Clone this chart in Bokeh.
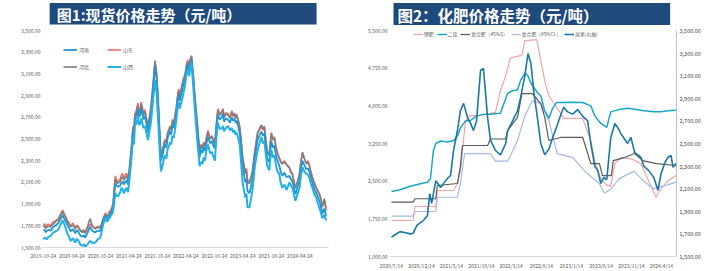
import pandas as pd
from bokeh.plotting import figure
from bokeh.layouts import row, column
from bokeh.models import (Range1d, LinearAxis, FixedTicker, NumeralTickFormatter,
                          Legend, LegendItem)
from bokeh.embed import file_html
from bokeh.resources import INLINE
from bokeh.core.properties import value

FONT = "Noto Sans CJK SC"
TXT = "#595959"

# ---------------- 图1 现货价格走势 (元/吨) ----------------
title1 = "图1:现货价格走势（元/吨）"
dates1 = [
    "2019-10-24", "2019-10-31", "2019-11-08", "2019-11-16", "2019-11-25", "2019-12-10", "2019-12-18", "2019-12-27", "2020-01-12", "2020-01-27",
    "2020-02-10", "2020-02-24", "2020-03-04", "2020-03-12", "2020-03-20", "2020-03-28", "2020-04-06", "2020-04-14", "2020-05-01", "2020-05-08",
    "2020-05-15", "2020-05-24", "2020-06-01", "2020-06-09", "2020-06-17", "2020-07-03", "2020-07-10", "2020-07-18", "2020-08-03", "2020-08-11",
    "2020-08-19", "2020-08-27", "2020-09-04", "2020-09-20", "2020-10-06", "2020-10-22", "2020-10-30", "2020-11-08", "2020-11-24", "2020-12-02",
    "2020-12-10", "2020-12-18", "2020-12-25", "2021-01-12", "2021-01-20", "2021-01-27", "2021-02-04", "2021-02-12", "2021-02-27", "2021-03-07",
    "2021-03-15", "2021-03-22", "2021-03-30", "2021-04-09", "2021-04-18", "2021-04-28", "2021-05-08", "2021-05-20", "2021-05-26", "2021-06-01",
    "2021-06-10", "2021-06-20", "2021-06-27", "2021-07-05", "2021-07-11", "2021-07-17", "2021-07-26", "2021-08-05", "2021-08-15", "2021-08-24",
    "2021-09-02", "2021-09-12", "2021-09-25", "2021-10-08", "2021-10-18", "2021-10-27", "2021-11-06", "2021-11-15", "2021-11-28", "2021-12-05",
    "2021-12-12", "2021-12-20", "2021-12-28", "2022-01-05", "2022-01-12", "2022-01-20", "2022-01-28", "2022-02-05", "2022-02-13", "2022-02-22",
    "2022-03-04", "2022-03-10", "2022-03-16", "2022-03-28", "2022-04-06", "2022-04-14", "2022-04-22", "2022-04-29", "2022-05-07", "2022-05-15",
    "2022-05-22", "2022-05-30", "2022-06-10", "2022-06-19", "2022-06-28", "2022-07-08", "2022-07-21", "2022-07-30", "2022-08-08", "2022-08-16",
    "2022-08-24", "2022-09-03", "2022-09-12", "2022-09-18", "2022-09-25", "2022-10-07", "2022-10-17", "2022-10-27", "2022-11-05", "2022-11-15",
    "2022-11-28", "2022-12-10", "2022-12-18", "2022-12-25", "2023-01-05", "2023-01-18", "2023-02-01", "2023-02-12", "2023-02-20", "2023-03-01",
    "2023-03-08", "2023-03-15", "2023-03-25", "2023-04-04", "2023-04-13", "2023-04-23", "2023-05-10", "2023-05-17", "2023-05-24", "2023-06-06",
    "2023-06-15", "2023-06-24", "2023-07-10", "2023-07-18", "2023-07-27", "2023-08-10", "2023-08-21", "2023-08-30", "2023-09-09", "2023-09-18",
    "2023-09-28", "2023-10-10", "2023-10-17", "2023-10-24", "2023-11-02", "2023-11-12", "2023-11-21", "2023-12-01", "2023-12-13", "2023-12-22",
    "2024-01-02", "2024-01-15", "2024-01-29", "2024-02-17", "2024-02-26", "2024-03-07", "2024-03-16", "2024-03-26", "2024-04-08", "2024-04-21",
    "2024-04-30", "2024-05-10", "2024-05-22", "2024-06-04", "2024-06-14", "2024-06-24", "2024-07-03", "2024-07-13", "2024-07-25", "2024-08-07",
    "2024-08-16", "2024-08-26", "2024-09-05", "2024-09-15", "2024-09-27", "2024-10-09"]
shandong = [
    1705, 1720, 1690, 1705, 1715, 1700, 1725, 1735, 1750, 1765,
    1805, 1845, 1815, 1790, 1770, 1745, 1725, 1700, 1725, 1700,
    1680, 1705, 1700, 1680, 1660, 1650, 1665, 1640, 1680, 1700,
    1715, 1700, 1690, 1680, 1695, 1690, 1720, 1760, 1820, 1795,
    1800, 1830, 1835, 1900, 2050, 2160, 2120, 2110, 2130, 2170,
    2180, 2140, 2165, 2185, 2130, 2250, 2400, 2620, 2580, 2735,
    2760, 2830, 2760, 2780, 2840, 2805, 2740, 2770, 2690, 2620,
    2700, 2800, 3000, 3225, 3120, 2900, 2600, 2350, 2420, 2470,
    2500, 2470, 2560, 2590, 2620, 2590, 2680, 2650, 2720, 2800,
    2930, 2960, 2900, 2990, 3050, 3080, 3130, 3200, 3230, 3160,
    3240, 3270, 3100, 2930, 2780, 2620, 2380, 2450, 2420, 2470,
    2440, 2520, 2580, 2550, 2510, 2530, 2500, 2470, 2640, 2780,
    2730, 2750, 2780, 2710, 2740, 2735, 2700, 2760, 2720, 2740,
    2700, 2730, 2680, 2620, 2500, 2330, 2200, 2230, 2120, 2110,
    2150, 2200, 2400, 2470, 2560, 2590, 2625, 2580, 2620, 2500,
    2380, 2360, 2470, 2560, 2500, 2520, 2440, 2380, 2330, 2300,
    2270, 2300, 2270, 2240, 2200, 2180, 2120, 2050, 2110, 2180,
    2290, 2370, 2320, 2280, 2300, 2260, 2200, 2150, 2100, 2050,
    2030, 2000, 1950, 1870, 1940, 1840]
hebei = [
    1685, 1700, 1675, 1690, 1695, 1690, 1705, 1715, 1740, 1755,
    1795, 1830, 1805, 1785, 1755, 1730, 1715, 1690, 1705, 1690,
    1670, 1695, 1690, 1670, 1650, 1640, 1655, 1630, 1700, 1740,
    1765, 1720, 1695, 1670, 1685, 1680, 1710, 1750, 1805, 1785,
    1790, 1815, 1820, 1880, 2030, 2130, 2100, 2090, 2110, 2140,
    2150, 2120, 2140, 2160, 2110, 2230, 2380, 2600, 2560, 2715,
    2740, 2810, 2740, 2760, 2820, 2790, 2720, 2750, 2670, 2600,
    2680, 2780, 2980, 3210, 3100, 2880, 2580, 2330, 2400, 2450,
    2480, 2460, 2550, 2570, 2610, 2580, 2670, 2640, 2700, 2780,
    2910, 2940, 2880, 2970, 3030, 3060, 3110, 3185, 3210, 3150,
    3230, 3260, 3090, 2910, 2760, 2600, 2370, 2440, 2410, 2460,
    2430, 2500, 2560, 2540, 2500, 2520, 2480, 2450, 2620, 2760,
    2720, 2740, 2770, 2700, 2730, 2720, 2690, 2750, 2710, 2730,
    2690, 2720, 2670, 2600, 2480, 2310, 2180, 2210, 2100, 2090,
    2140, 2190, 2380, 2460, 2550, 2600, 2630, 2590, 2610, 2490,
    2370, 2350, 2460, 2550, 2490, 2510, 2430, 2370, 2320, 2290,
    2270, 2290, 2260, 2230, 2190, 2170, 2110, 2045, 2100, 2170,
    2290, 2380, 2320, 2270, 2290, 2250, 2190, 2140, 2090, 2045,
    2020, 1990, 1950, 1880, 1950, 1860]
henan = [
    1655, 1665, 1640, 1655, 1665, 1655, 1675, 1690, 1705, 1725,
    1760, 1800, 1770, 1745, 1725, 1700, 1680, 1650, 1670, 1650,
    1630, 1660, 1650, 1630, 1610, 1600, 1615, 1590, 1640, 1670,
    1690, 1665, 1650, 1640, 1655, 1650, 1690, 1730, 1790, 1760,
    1770, 1795, 1800, 1860, 1990, 2090, 2070, 2060, 2070, 2100,
    2110, 2080, 2100, 2120, 2080, 2190, 2340, 2560, 2520, 2680,
    2700, 2770, 2700, 2720, 2780, 2750, 2680, 2710, 2630, 2560,
    2640, 2740, 2940, 3170, 3060, 2840, 2540, 2300, 2370, 2420,
    2450, 2420, 2510, 2540, 2570, 2540, 2630, 2600, 2660, 2740,
    2870, 2900, 2850, 2930, 2990, 3020, 3080, 3150, 3180, 3120,
    3200, 3230, 3050, 2870, 2720, 2560, 2330, 2400, 2370, 2420,
    2390, 2460, 2520, 2500, 2460, 2480, 2440, 2410, 2580, 2720,
    2680, 2700, 2730, 2660, 2690, 2680, 2650, 2700, 2670, 2690,
    2650, 2670, 2620, 2550, 2420, 2250, 2100, 2130, 2020, 2000,
    2060, 2120, 2330, 2400, 2490, 2540, 2570, 2530, 2550, 2430,
    2310, 2290, 2400, 2480, 2420, 2440, 2360, 2300, 2260, 2200,
    2160, 2190, 2150, 2160, 2130, 2110, 2050, 1990, 2050, 2110,
    2220, 2300, 2260, 2220, 2230, 2200, 2140, 2100, 2040, 2000,
    1970, 1930, 1880, 1810, 1860, 1790]
shanxi = [
    1575, 1590, 1585, 1575, 1600, 1605, 1625, 1640, 1650, 1665,
    1710, 1750, 1720, 1690, 1655, 1620, 1600, 1560, 1585, 1565,
    1545, 1580, 1570, 1550, 1525, 1515, 1530, 1510, 1530, 1550,
    1560, 1550, 1540, 1545, 1575, 1590, 1640, 1700, 1775, 1740,
    1745, 1770, 1780, 1830, 1920, 2000, 1980, 1970, 2010, 2050,
    2040, 2000, 2025, 2050, 2010, 2130, 2290, 2490, 2450, 2620,
    2640, 2700, 2630, 2640, 2690, 2660, 2600, 2620, 2550, 2490,
    2570, 2650, 2850, 3040, 2930, 2700, 2420, 2200, 2270, 2330,
    2350, 2320, 2410, 2430, 2470, 2450, 2530, 2510, 2580, 2680,
    2810, 2840, 2780, 2850, 2910, 2960, 3030, 3110, 3140, 3080,
    3160, 3200, 2990, 2800, 2630, 2450, 2250, 2290, 2270, 2330,
    2300, 2400, 2450, 2420, 2370, 2380, 2340, 2300, 2500, 2650,
    2590, 2600, 2620, 2570, 2600, 2620, 2580, 2600, 2560, 2580,
    2540, 2560, 2510, 2450, 2280, 2090, 1960, 2000, 1870, 1870,
    1950, 2020, 2250, 2320, 2390, 2470, 2520, 2460, 2480, 2360,
    2250, 2210, 2320, 2400, 2330, 2350, 2270, 2200, 2180, 2100,
    2050, 2080, 2030, 2100, 2070, 2050, 1990, 1930, 1990, 2050,
    2160, 2240, 2200, 2180, 2170, 2140, 2090, 2050, 1990, 1960,
    1910, 1870, 1820, 1770, 1800, 1750]
xticks1 = ["2019-10-24", "2020-04-24", "2020-10-24", "2021-04-24", "2021-10-24",
           "2022-04-24", "2022-10-24", "2023-04-24", "2023-10-24", "2024-04-24"]
yticks1 = [1500, 1700, 1900, 2100, 2300, 2500, 2700, 2900, 3100, 3300, 3500]

# ---------------- 图2 化肥价格走势 (元/吨) ----------------
title2 = "图2：化肥价格走势（元/吨）"
kcl_dates = ["2020-07-14", "2020-11-01", "2020-11-10", "2021-02-24", "2021-03-04", "2021-05-25",
             "2021-06-14", "2021-06-29", "2021-07-09", "2021-07-25", "2021-08-19", "2021-10-09",
             "2021-11-29", "2021-12-24", "2022-01-18", "2022-02-14", "2022-03-09", "2022-04-15",
             "2022-05-07", "2022-05-22", "2022-07-22", "2022-08-11", "2022-08-31", "2022-09-21",
             "2022-11-20", "2022-12-05", "2023-03-12", "2023-04-22", "2023-05-12", "2023-06-12",
             "2023-07-12", "2023-08-01", "2023-08-22", "2023-09-21", "2023-11-11", "2024-01-01",
             "2024-02-10", "2024-03-18", "2024-04-12", "2024-05-17", "2024-06-27"]
kcl = [1717, 1717, 1996, 1996, 2314, 2314, 2450, 2710, 3110, 3700, 3807, 3807,
       3850, 3870, 4300, 4600, 4950, 4990, 5000, 5300, 5320, 4900, 4500, 4200,
       3850, 3750, 3750, 3300, 2900, 2550, 2420, 2400, 2850, 2970, 2950, 2850,
       2500, 2180, 2350, 2500, 2613]
dap_dates = ["2020-07-14", "2020-08-27", "2020-10-17", "2020-12-08", "2021-01-13", "2021-01-28",
             "2021-02-12", "2021-02-24", "2021-03-20", "2021-04-24", "2021-05-25", "2021-06-14",
             "2021-06-29", "2021-07-25", "2021-08-19", "2021-09-19", "2021-10-24", "2021-11-29",
             "2021-12-24", "2022-01-18", "2022-02-24", "2022-03-21", "2022-04-15", "2022-04-30",
             "2022-05-22", "2022-06-07", "2022-06-22", "2022-07-27", "2022-08-11", "2022-08-31",
             "2022-09-21", "2022-10-10", "2022-10-31", "2022-11-20", "2023-01-20", "2023-03-12",
             "2023-04-22", "2023-05-12", "2023-06-12", "2023-07-12", "2023-08-01", "2023-09-06",
             "2023-10-26", "2023-12-01", "2024-01-16", "2024-03-07", "2024-04-12", "2024-05-17",
             "2024-06-27"]
dap = [2294, 2330, 2400, 2450, 2480, 2553, 3110, 3250, 3300, 3280, 3310, 3400,
       3560, 3700, 3708, 3800, 3830, 3830, 3840, 3850, 4250, 4300, 4320, 4500,
       4650, 4600, 4450, 4250, 4200, 3900, 3750, 3950, 4066, 4066, 4070, 4066,
       4000, 3800, 3650, 3570, 3880, 3920, 3950, 3930, 3900, 3880, 3880, 3900,
       3910]
npk_s_dates = ["2020-07-14", "2020-11-01", "2020-11-10", "2021-02-24", "2021-03-04", "2021-06-14",
               "2021-06-29", "2021-07-09", "2021-11-14", "2021-11-29", "2022-02-14", "2022-02-24",
               "2022-04-15", "2022-05-07", "2022-06-29", "2022-08-11", "2022-08-31", "2022-09-21",
               "2022-11-20", "2023-03-12", "2023-04-22", "2023-06-05", "2023-06-20", "2023-08-04",
               "2023-08-14", "2023-10-10", "2023-12-01", "2024-01-10", "2024-03-20", "2024-06-27"]
npk_s = [2082, 2082, 2150, 2150, 2414, 2453, 2800, 3210, 3210, 3340, 3340, 3510,
         3770, 4245, 4245, 4046, 3770, 3310, 3370, 3370, 2850, 2850, 2610, 2610,
         2910, 2970, 3050, 2910, 2850, 2812]
npk_cl_dates = ["2020-07-14", "2020-11-01", "2020-11-10", "2021-02-24", "2021-03-04", "2021-06-14",
                "2021-06-29", "2021-07-20", "2021-11-29", "2021-12-24", "2022-02-24", "2022-03-09",
                "2022-04-15", "2022-05-22", "2022-06-29", "2022-08-11", "2022-09-21", "2022-11-02",
                "2023-01-21", "2023-03-22", "2023-06-05", "2023-06-30", "2023-08-04", "2023-09-13",
                "2023-11-27", "2024-01-16", "2024-03-06", "2024-04-25", "2024-06-27"]
npk_cl = [1803, 1803, 1896, 1896, 2180, 2180, 2453, 3050, 3050, 2900, 2900, 3000,
          3310, 3800, 4100, 4050, 3700, 3050, 2970, 2700, 2450, 2260, 2350, 2550,
          2700, 2500, 2350, 2400, 2480]
urea_dates = ["2020-07-14", "2020-07-30", "2020-08-27", "2020-09-24", "2020-10-17", "2020-11-01",
              "2020-11-20", "2020-12-08", "2020-12-24", "2021-01-13", "2021-01-24", "2021-02-03",
              "2021-02-24", "2021-03-20", "2021-04-04", "2021-04-24", "2021-05-10", "2021-05-25",
              "2021-06-14", "2021-06-29", "2021-07-15", "2021-08-04", "2021-08-19", "2021-09-03",
              "2021-09-19", "2021-10-09", "2021-10-24", "2021-11-14", "2021-11-29", "2021-12-24",
              "2022-01-18", "2022-02-14", "2022-02-24", "2022-03-21", "2022-04-15", "2022-04-30",
              "2022-05-22", "2022-06-07", "2022-06-22", "2022-07-07", "2022-07-27", "2022-08-11",
              "2022-08-31", "2022-09-21", "2022-10-10", "2022-10-31", "2022-11-20", "2022-12-05",
              "2022-12-25", "2023-01-20", "2023-02-14", "2023-03-12", "2023-04-06", "2023-04-22",
              "2023-05-12", "2023-05-27", "2023-06-12", "2023-06-27", "2023-07-12", "2023-08-01",
              "2023-08-22", "2023-09-06", "2023-09-21", "2023-10-10", "2023-10-26", "2023-11-11",
              "2023-12-01", "2024-01-01", "2024-01-16", "2024-02-10", "2024-03-07", "2024-03-28",
              "2024-04-12", "2024-05-02", "2024-05-17", "2024-06-02", "2024-06-12", "2024-06-27"]
urea = [1671, 1690, 1720, 1710, 1700, 1705, 1775, 1800, 1820, 1863, 2057, 1970,
        2170, 2110, 2145, 2190, 2217, 2438, 2615, 2790, 2855, 2730, 2680, 2615,
        2700, 3146, 3164, 2730, 2527, 2438, 2400, 2500, 2615, 2700, 2790, 2900,
        3100, 3296, 3208, 2950, 2700, 2500, 2400, 2450, 2550, 2650, 2750, 2820,
        2780, 2760, 2800, 2740, 2700, 2500, 2300, 2260, 2146, 2200, 2180, 2550,
        2677, 2640, 2590, 2540, 2500, 2555, 2420, 2380, 2300, 2260, 2200, 2085,
        2230, 2330, 2376, 2394, 2290, 2323]
xticks2 = ["2020-07-14", "2020-12-14", "2021-05-14", "2021-10-14", "2022-03-14",
           "2022-08-14", "2023-01-14", "2023-06-14", "2023-11-14", "2024-04-14"]
xlabels2 = ["2020/7/14", "2020/12/14", "2021/5/14", "2021/10/14", "2022/3/14",
            "2022/8/14", "2023/1/14", "2023/6/14", "2023/11/14", "2024/4/14"]
yticks2 = [1000, 1750, 2500, 3250, 4000, 4750, 5500]
yticks2r = [1500, 1700, 1900, 2100, 2300, 2500, 2700, 2900, 3100, 3300, 3500]


def ms(s):
    return pd.Timestamp(s).value / 1e6


def dt(lst):
    return pd.to_datetime(lst)


def make_title(text, left, right, top, bottom, tx, size):
    t = figure(width=360, height=25, x_range=Range1d(0, 360), y_range=Range1d(25, 0),
               output_backend="svg", toolbar_location=None, min_border=0,
               x_axis_location=None, y_axis_location=None, outline_line_color=None)
    t.grid.visible = False
    t.quad(left=[left], right=[right], top=[top], bottom=[bottom],
           fill_color="#1F4A7C", line_color=None)
    t.text(x=[tx], y=[(top + bottom) / 2 + 0.5], text=[text], text_color="white",
           text_font=value(FONT), text_font_style="bold", text_font_size=size,
           text_baseline="middle")
    return t


def style_axis(ax, size="5px", line=None, standoff=2):
    ax.axis_line_color = line
    ax.major_tick_line_color = None
    ax.minor_tick_line_color = None
    ax.major_tick_out = 0
    ax.major_tick_in = 0
    ax.minor_tick_out = 0
    ax.minor_tick_in = 0
    ax.major_label_text_font = FONT
    ax.major_label_text_font_size = size
    ax.major_label_text_color = TXT
    ax.major_label_standoff = standoff


# ---------- chart 1 ----------
t1 = make_title(title1, 9, 345, 2.5, 24, 18, "15px")
p1 = figure(width=360, height=246, x_axis_type="datetime",
            x_range=Range1d(ms("2019-10-18"), ms("2024-10-24")),
            y_range=Range1d(1500, 3500),
            output_backend="svg", toolbar_location=None,
            min_border_left=42, min_border_right=32, min_border_top=5, min_border_bottom=24,
            outline_line_color=None)
p1.grid.visible = False
xt1 = [ms(s) for s in xticks1]
p1.xaxis.ticker = FixedTicker(ticks=xt1)
p1.xaxis.major_label_overrides = {v: s for v, s in zip(xt1, xticks1)}
p1.yaxis.ticker = FixedTicker(ticks=yticks1)
p1.yaxis.formatter = NumeralTickFormatter(format="0,0.00")
style_axis(p1.xaxis[0], "5px", "#D9D9D9", 6)
style_axis(p1.yaxis[0], "5px", None, 2)

d1 = dt(dates1)
r_sd = p1.line(d1, shandong, line_color="#E8726C", line_width=1.6)
r_hb = p1.line(d1, hebei, line_color="#7F7F7F", line_width=1.6)
r_hn = p1.line(d1, henan, line_color="#1F96D4", line_width=1.8)
r_sx = p1.line(d1, shanxi, line_color="#22B0E6", line_width=2.0)

leg1 = Legend(items=[LegendItem(label="河南", renderers=[r_hn]),
                     LegendItem(label="山东", renderers=[r_sd]),
                     LegendItem(label="河北", renderers=[r_hb]),
                     LegendItem(label="山西", renderers=[r_sx])],
              orientation="horizontal", ncols=2, location=(21, 176),
              label_text_font=FONT, label_text_font_size="5px", label_text_color=TXT,
              glyph_width=14, glyph_height=9, label_height=9, label_standoff=2,
              spacing=8, padding=0, margin=0, background_fill_alpha=0,
              border_line_color=None)
p1.add_layout(leg1)

# ---------- chart 2 ----------
t2 = make_title(title2, 5, 352, 2.5, 25, 10, "15.5px")
p2 = figure(width=360, height=246, x_axis_type="datetime",
            x_range=Range1d(ms("2020-07-04"), ms("2024-06-30")),
            y_range=Range1d(1000, 5500),
            output_backend="svg", toolbar_location=None,
            min_border_left=29, min_border_right=44, min_border_top=5, min_border_bottom=15,
            outline_line_color=None)
p2.grid.visible = False
p2.extra_y_ranges = {"urea": Range1d(1500, 3500)}
xt2 = [ms(s) for s in xticks2]
p2.xaxis.ticker = FixedTicker(ticks=xt2)
p2.xaxis.major_label_overrides = {v: s for v, s in zip(xt2, xlabels2)}
p2.yaxis.ticker = FixedTicker(ticks=yticks2)
p2.yaxis.formatter = NumeralTickFormatter(format="0,0.00")
style_axis(p2.xaxis[0], "5px", "#D9D9D9", 5)
style_axis(p2.yaxis[0], "5px", None, 2)
ax_r = LinearAxis(y_range_name="urea", ticker=FixedTicker(ticks=yticks2r),
                  formatter=NumeralTickFormatter(format="0,0.00"))
style_axis(ax_r, "5.5px", "#BFBFBF", 3)
ax_r.major_label_text_color = "#404040"
p2.add_layout(ax_r, "right")

r_k = p2.line(dt(kcl_dates), kcl, line_color="#F4A3A8", line_width=1.2)
r_cl = p2.line(dt(npk_cl_dates), npk_cl, line_color="#A6B8E8", line_width=1.2)
r_s = p2.line(dt(npk_s_dates), npk_s, line_color="#5A5A5A", line_width=1.2)
r_d = p2.line(dt(dap_dates), dap, line_color="#1AA6C8", line_width=1.5)
r_u = p2.line(dt(urea_dates), urea, line_color="#1B77A3", line_width=1.6, y_range_name="urea")

leg2 = Legend(items=[LegendItem(label="钾肥", renderers=[r_k]),
                     LegendItem(label="二铵", renderers=[r_d]),
                     LegendItem(label="复合肥（45%S）", renderers=[r_s]),
                     LegendItem(label="复合肥（45%CL）", renderers=[r_cl]),
                     LegendItem(label="尿素(右轴)", renderers=[r_u])],
              orientation="horizontal", location=(24, 219),
              label_text_font=FONT, label_text_font_size="4.8px", label_text_color=TXT,
              glyph_width=10, glyph_height=6, label_height=6, label_width=0,
              label_standoff=1, spacing=3, padding=0, margin=0,
              background_fill_alpha=0, border_line_color=None)
p2.add_layout(leg2)

layout = row(column(t1, p1, spacing=0), column(t2, p2, spacing=0), spacing=0)
open("out.html", "w").write(file_html(layout, INLINE))
